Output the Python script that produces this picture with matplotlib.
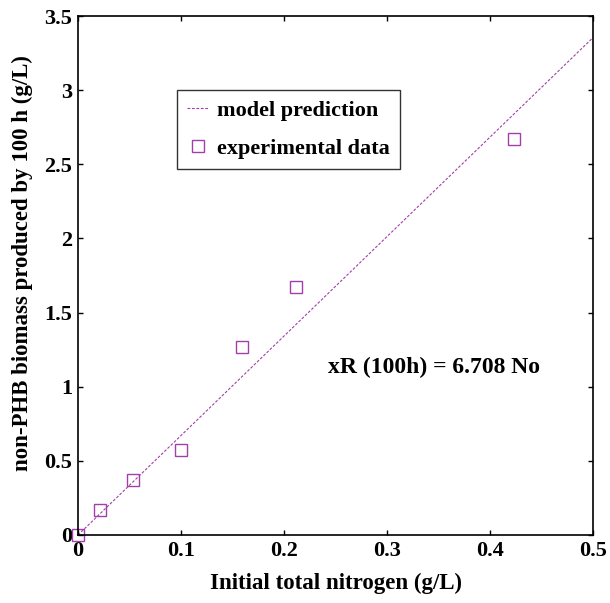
import matplotlib
matplotlib.use('Agg')
import matplotlib.pyplot as plt

# data
nitrogen = [0.0, 0.021, 0.053, 0.100, 0.159, 0.212, 0.423]
biomass = [0.0, 0.17, 0.37, 0.57, 1.27, 1.67, 2.67]
slope = 6.708
x_line = [0.0, 0.5]

plt.rcParams['font.family'] = 'Liberation Serif'
plt.rcParams['font.weight'] = 'bold'
purple = '#a040a8'

fig = plt.figure(figsize=(6.1, 6.03), dpi=100)
ax = fig.add_axes([78/610, 1 - 535/603, 515/610, 519/603])

ax.plot(x_line, [slope * v for v in x_line], linestyle=(0, (2.5, 1.5)),
        color=purple, linewidth=0.8, label='model prediction')
ax.plot(nitrogen, biomass, linestyle='none', marker='s', markersize=8,
        markerfacecolor='none', markeredgecolor=purple, markeredgewidth=1.0,
        label='experimental data', clip_on=False)

ax.set_xlim(0, 0.5)
ax.set_ylim(0, 3.5)
ax.set_xticks([0, 0.1, 0.2, 0.3, 0.4, 0.5])
ax.set_xticklabels(['0', '0.1', '0.2', '0.3', '0.4', '0.5'])
ax.set_yticks([0, 0.5, 1, 1.5, 2, 2.5, 3, 3.5])
ax.set_yticklabels(['0', '0.5', '1', '1.5', '2', '2.5', '3', '3.5'])
ax.tick_params(direction='in', labelsize=16, length=3.5, width=1,
               top=True, right=True, pad=4)
for s in ax.spines.values():
    s.set_linewidth(1.2)

ax.set_xlabel('Initial total nitrogen (g/L)', fontsize=16.5, fontweight='bold', labelpad=9)
ax.set_ylabel('non-PHB biomass produced by 100 h (g/L)', fontsize=16.5,
              fontweight='bold')
ax.yaxis.set_label_coords(-0.087, 0.524)

leg = ax.legend(loc='upper left', bbox_to_anchor=(0.192, 0.857), fontsize=16,
                frameon=True, fancybox=False, edgecolor='black',
                handlelength=1.0, handletextpad=0.35, borderpad=0.45,
                borderaxespad=0, labelspacing=0.8)
leg.get_frame().set_linewidth(1.0)

ax.text(0.2427, 1.09, 'xR (100h) = 6.708 No', fontsize=17, fontweight='bold')

plt.savefig('out.png', dpi=100)
plt.close()
